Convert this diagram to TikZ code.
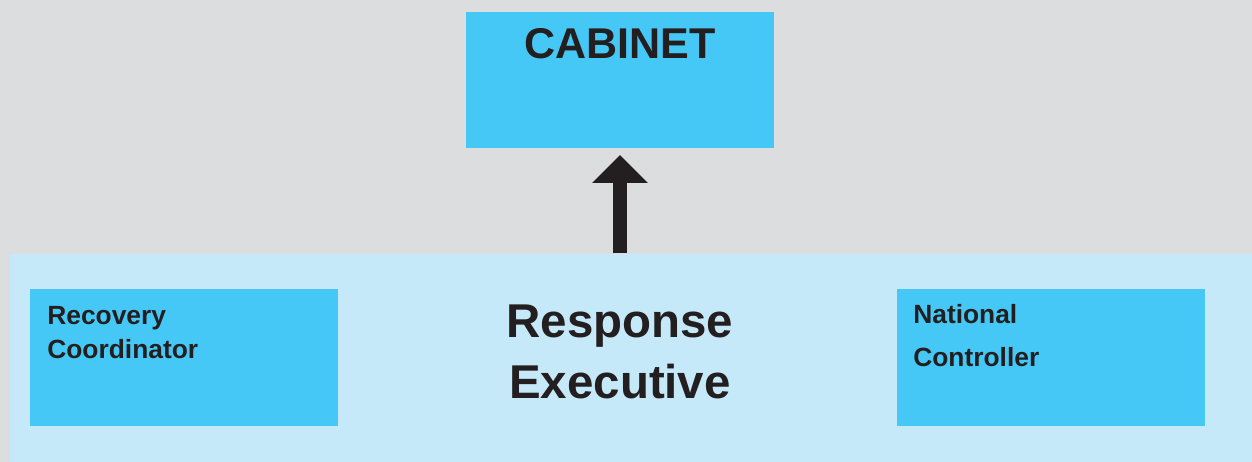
\documentclass[tikz,border=0pt]{standalone}
\usepackage{fontspec}
\setmainfont{Liberation Sans}
\usetikzlibrary{arrows.meta}
\definecolor{bggray}{HTML}{DCDDDF}
\definecolor{panelblue}{HTML}{C5E9F9}
\definecolor{boxblue}{HTML}{45C8F5}
\definecolor{inkdark}{HTML}{231F20}
\tikzset{
  box/.style={fill=boxblue, draw=none, inner sep=0pt, anchor=north west},
  boxtext/.style={text=inkdark, font=\bfseries\fontsize{15}{19.4}\selectfont, align=left, anchor=base west, inner sep=0pt}
}
\begin{document}
\begin{tikzpicture}[x=0.02cm, y=-0.02cm]
        \fill[bggray] (0,0) rectangle (1252,462);
        \useasboundingbox (0,0) rectangle (1252,462);
        % panel and boxes
        \node[fill=panelblue, inner sep=0pt, anchor=north west, minimum width=1242.5*0.02cm, minimum height=208.5*0.02cm] (panel) at (9.5,253.5) {};
        \node[box, minimum width=308*0.02cm, minimum height=136*0.02cm] (cabinet) at (466,12) {};
        \node[box, minimum width=308*0.02cm, minimum height=136.5*0.02cm] (recovery) at (30,289) {};
        \node[box, minimum width=308*0.02cm, minimum height=136.5*0.02cm] (national) at (897,289) {};
        % texts (base = last line)
        \node[text=inkdark, font=\bfseries\fontsize{24.5}{28}\selectfont, anchor=base, inner sep=0pt] (cabtext) at (620,59) {CABINET};
        \node[text=inkdark, font=\bfseries\fontsize{27}{34.7}\selectfont, align=center, anchor=base, inner sep=0pt] (response) at (620,398.5) {Response\\Executive};
        \node[boxtext] (rectext) at (47,359) {Recovery\\Coordinator};
        \node[boxtext, font=\bfseries\fontsize{15}{24.5}\selectfont] (nattext) at (913,367) {National\\Controller};
        % arrow
        \coordinate (tip) at (620,155);
        \draw[inkdark, line width=7.97pt, -{Triangle[length=15.9pt, width=30.7pt]}] (panel.north -| tip) -- (tip);
    \end{tikzpicture}
\end{document}
